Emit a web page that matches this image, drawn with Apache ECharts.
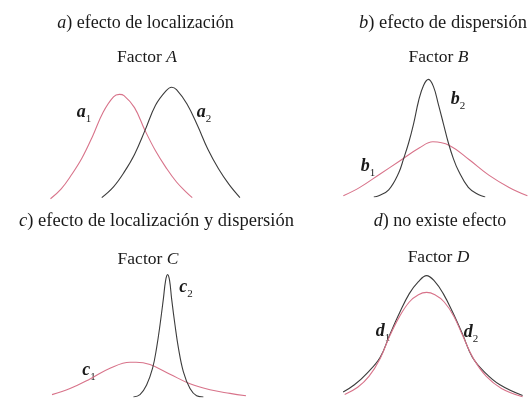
<!DOCTYPE html>
<html>
<head>
<meta charset="utf-8">
<script src="https://cdn.jsdelivr.net/npm/echarts@6/dist/echarts.min.js"></script>
<style>
  html, body { margin: 0; padding: 0; background: #fff; }
  #chart { width: 529px; height: 398px; }
</style>
</head>
<body>
<div id="chart"></div>
<script>
  // curve points: [x, height]
  var a1 = [[0.5,0.01],[1.0,0.09],[1.5,0.21],[2.0,0.35],[2.5,0.53],[3.0,0.73],[3.5,0.86],[3.78,0.88],[4.0,0.87],[4.5,0.77],[5.0,0.58],[5.5,0.41],[6.0,0.27],[6.5,0.15],[7.0,0.06],[7.25,0.02]];
  var a2 = [[2.94,0.02],[3.5,0.11],[4.0,0.23],[4.5,0.38],[5.0,0.58],[5.5,0.79],[6.0,0.91],[6.27,0.94],[6.5,0.92],[7.0,0.80],[7.5,0.62],[8.0,0.42],[8.5,0.26],[9.0,0.13],[9.52,0.02]];
  var b1 = [[0.67,0.01],[1.5,0.08],[2.5,0.19],[3.5,0.30],[4.5,0.41],[5.17,0.46],[6.0,0.43],[7.0,0.31],[8.0,0.18],[9.0,0.08],[9.92,0.01]];
  var b2 = [[2.2,0.0],[2.45,0.01],[2.95,0.06],[3.45,0.20],[3.7,0.32],[3.95,0.45],[4.2,0.61],[4.45,0.80],[4.7,0.93],[4.95,0.98],[5.2,0.92],[5.45,0.77],[5.7,0.61],[5.95,0.45],[6.2,0.32],[6.45,0.22],[6.95,0.08],[7.45,0.02],[7.8,0.0]];
  var c1 = [[0.6,0.02],[1.5,0.07],[2.5,0.15],[3.5,0.24],[4.5,0.29],[4.8,0.29],[5.5,0.27],[6.5,0.19],[7.5,0.11],[8.5,0.06],[9.5,0.03],[10.3,0.01]];
  var c2 = [[4.67,0.0],[5.0,0.02],[5.33,0.10],[5.63,0.24],[5.83,0.41],[6.0,0.60],[6.17,0.82],[6.28,0.97],[6.38,1.02],[6.48,0.97],[6.58,0.82],[6.75,0.60],[6.92,0.41],[7.17,0.21],[7.5,0.07],[7.83,0.01],[8.17,0.0]];
  var d1 = [[0.5,0.03],[1.17,0.09],[1.75,0.18],[2.33,0.33],[2.83,0.52],[3.33,0.68],[3.83,0.80],[4.3,0.86],[4.72,0.88],[5.15,0.86],[5.63,0.80],[6.13,0.68],[6.58,0.52],[7.13,0.33],[7.8,0.18],[8.58,0.08],[9.67,0.01]];
  var d2 = [[0.42,0.05],[1.0,0.11],[1.67,0.21],[2.33,0.34],[2.83,0.53],[3.33,0.71],[3.83,0.87],[4.3,0.97],[4.72,1.02],[5.15,0.97],[5.58,0.87],[6.08,0.71],[6.58,0.53],[7.08,0.34],[7.75,0.21],[8.5,0.11],[9.67,0.02]];

  var panelTitles = ['{i|a}) efecto de localización', '{i|b}) efecto de dispersión',
                     '{i|c}) efecto de localización y dispersión', '{i|d}) no existe efecto'];
  var factorTitles = ['Factor {i|A}', 'Factor {i|B}', 'Factor {i|C}', 'Factor {i|D}'];
  var curveNames = [['a', '1'], ['a', '2'], ['b', '1'], ['b', '2'], ['c', '1'], ['c', '2'], ['d', '1'], ['d', '2']];

  var RED = '#d8738a';
  var BLACK = '#3c3c3c';
  var INK = '#1a1a1a';
  var SERIF = '"Liberation Serif", "DejaVu Serif", serif';

  var grids = [
    { left: 40, width: 210, top: 68, height: 132 },
    { left: 330, width: 200, top: 65, height: 132 },
    { left: 40, width: 220, top: 265, height: 132 },
    { left: 335, width: 200, top: 266, height: 132 }
  ];
  var xMax = [10, 10, 11, 10];

  // text placement (px)
  var titlePos = [[145.5, 23], [443, 23], [156.5, 221], [440, 221]];
  var titleSize = [18, 18.5, 18.5, 18];
  var factorPos = [[147, 57], [438.5, 57], [148, 259], [438.5, 257]];
  var labelPos = [[84, 114], [204, 114], [368, 168], [458, 101], [89, 372], [186, 289], [383, 333], [471, 334]];

  function curve(name, data, idx, color) {
    return {
      name: name,
      type: 'line',
      xAxisIndex: idx,
      yAxisIndex: idx,
      data: data,
      smooth: 0.4,
      symbol: 'none',
      silent: true,
      lineStyle: { color: color, width: 1.1 }
    };
  }

  var graphic = [];
  for (var i = 0; i < 4; i++) {
    graphic.push({
      type: 'text', x: titlePos[i][0], y: titlePos[i][1],
      style: {
        text: panelTitles[i], fill: INK, fontSize: titleSize[i], fontFamily: SERIF,
        align: 'center', verticalAlign: 'middle',
        rich: { i: { fontStyle: 'italic', fontSize: titleSize[i], fontFamily: SERIF, fill: INK } }
      }
    });
    graphic.push({
      type: 'text', x: factorPos[i][0], y: factorPos[i][1],
      style: {
        text: factorTitles[i], fill: INK, fontSize: 17.5, fontFamily: SERIF,
        align: 'center', verticalAlign: 'middle',
        rich: { i: { fontStyle: 'italic', fontSize: 17.5, fontFamily: SERIF, fill: INK } }
      }
    });
  }
  for (var k = 0; k < curveNames.length; k++) {
    graphic.push({
      type: 'text', x: labelPos[k][0], y: labelPos[k][1],
      style: {
        text: '{v|' + curveNames[k][0] + '}{s|' + curveNames[k][1] + '}',
        align: 'center', verticalAlign: 'middle',
        rich: {
          v: { fontStyle: 'italic', fontWeight: 'bold', fontSize: 18, lineHeight: 22, fontFamily: SERIF, fill: INK, verticalAlign: 'top' },
          s: { fontSize: 11, lineHeight: 15, fontFamily: SERIF, fill: INK, verticalAlign: 'bottom' }
        }
      }
    });
  }

  var chart = echarts.init(document.getElementById('chart'), null, { renderer: 'canvas' });
  chart.setOption({
    animation: false,
    backgroundColor: '#ffffff',
    grid: grids,
    xAxis: [0, 1, 2, 3].map(function (i) {
      return { type: 'value', gridIndex: i, min: 0, max: xMax[i], show: false };
    }),
    yAxis: [0, 1, 2, 3].map(function (i) {
      return { type: 'value', gridIndex: i, min: 0, max: 1.1, show: false };
    }),
    series: [
      curve('a1', a1, 0, RED),
      curve('a2', a2, 0, BLACK),
      curve('b1', b1, 1, RED),
      curve('b2', b2, 1, BLACK),
      curve('c1', c1, 2, RED),
      curve('c2', c2, 2, BLACK),
      curve('d2', d2, 3, BLACK),
      curve('d1', d1, 3, RED)
    ],
    graphic: graphic
  });
</script>
</body>
</html>
